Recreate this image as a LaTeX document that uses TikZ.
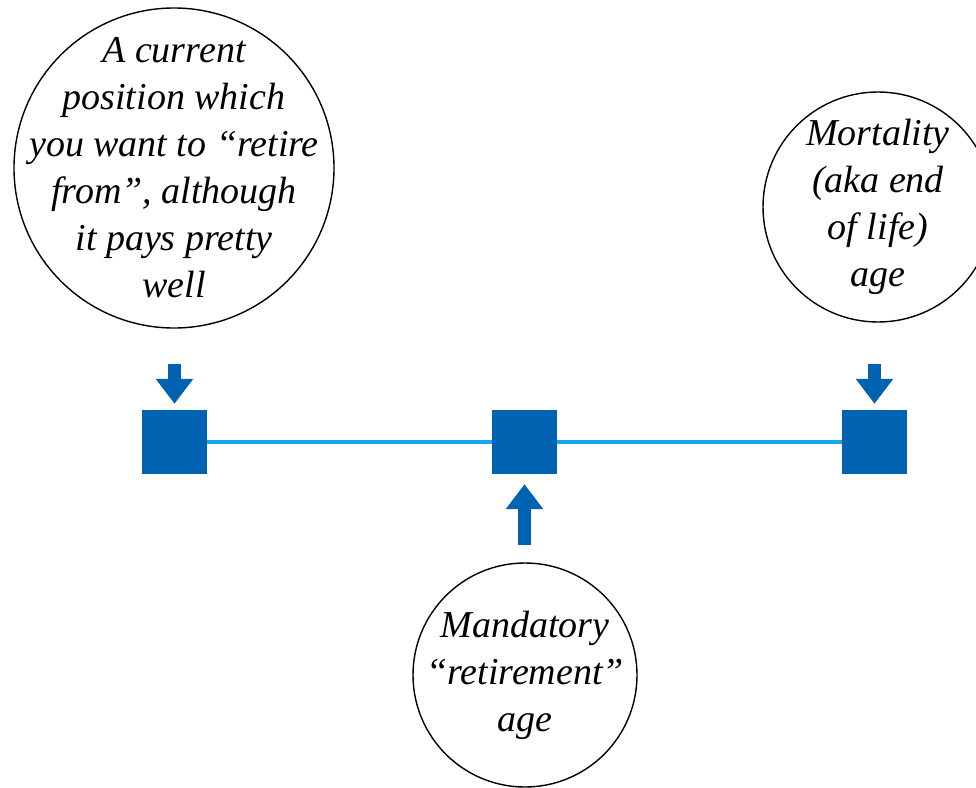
\documentclass[tikz,border=0pt]{standalone}
\usepackage{fontspec}
\setmainfont{Liberation Serif}
\usetikzlibrary{arrows.meta}
\definecolor{dblue}{HTML}{0063B1}
\definecolor{lblue}{HTML}{18A8EA}
\tikzset{
  bubble/.style={circle, draw=black, line width=1.4pt, inner sep=-80pt, align=center,
    font=\fontsize{38}{47}\selectfont\itshape},
  marker/.style={rectangle, fill=dblue, minimum width=65pt, minimum height=64pt, inner sep=0pt},
  timeline/.style={draw=lblue, line width=3.5pt},
  bigarrow/.style={draw=dblue, line width=13pt, -{Triangle[width=36pt,length=25pt]}},
}
\begin{document}
\begin{tikzpicture}[x=1pt,y=-1pt]
\useasboundingbox (0,0) rectangle (976,787);
\begin{scope}
\clip (0,0) rectangle (976,787);
\node[bubble, minimum size=320pt] (c1) at (174,168) {A current\\position which\\you want to “retire\\from”, although\\it pays pretty\\well};
\node[bubble, minimum size=230pt] (c3) at (878,207) {Mortality\\(aka end\\of life)\\age};
\node[bubble, minimum size=224pt] (c2) at (525,675) {Mandatory\\“retirement”\\age};
\end{scope}
\node[marker] (s1) at (174.5,442) {};
\node[marker] (s2) at (524.5,442) {};
\node[marker] (s3) at (874.5,442) {};
\draw[timeline] (s1.east) -- (s2.west);
\draw[timeline] (s2.east) -- (s3.west);
\coordinate (a1) at (174.5,364);
\coordinate (a3) at (874.5,364);
\coordinate (a2) at (524.5,545);
\draw[bigarrow, shorten >=6pt] (a1) -- (s1.north);
\draw[bigarrow, shorten >=6pt] (a3) -- (s3.north);
\draw[bigarrow, shorten >=10pt] (a2) -- (s2.south);
\end{tikzpicture}
\end{document}
